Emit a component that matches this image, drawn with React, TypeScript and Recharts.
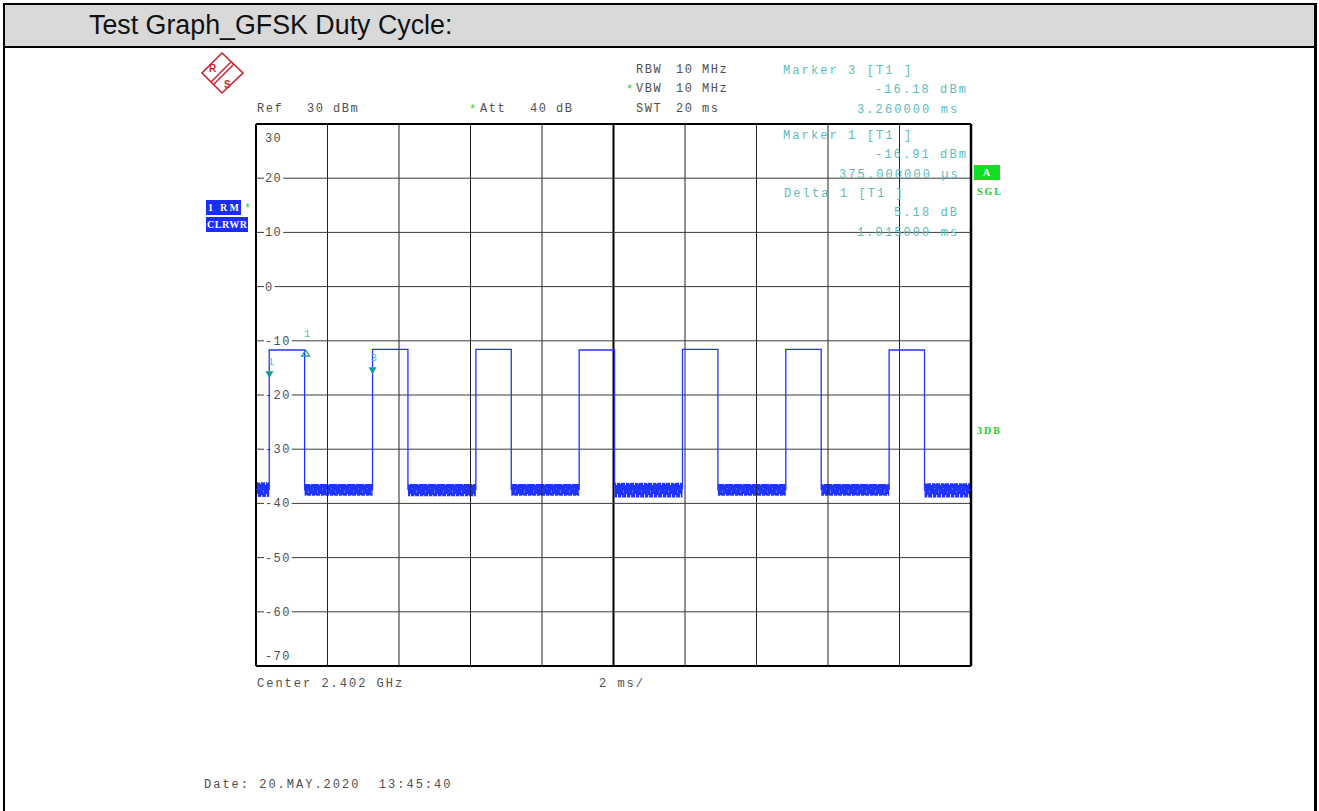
import {
  ComposedChart,
  Line,
  Area,
  XAxis,
  YAxis,
  ReferenceLine,
  ReferenceDot,
} from "recharts";

// sweep: 0..20 ms, level: -70..30 dBm
const sweepRange = [0, 20];
const levelRange = [-70, 30];
const timeGrid = [2, 4, 6, 8, 12, 14, 16, 18];
const levelGrid = [20, 10, 0, -10, -20, -30, -40, -50, -60];

// burst edges (ms) and levels (dBm)
const pulseRise = [0.37, 3.26, 6.15, 9.04, 11.93, 14.82, 17.71];
const pulseFall = [1.36, 4.25, 7.14, 10.03, 12.92, 15.81, 18.7];
const pulseTop = [-11.7, -11.6, -11.6, -11.7, -11.6, -11.6, -11.7];
// noise floor between bursts (8 gaps)
const floorLevel = [-37.4, -37.5, -37.4, -37.4, -37.3, -37.5, -37.4, -37.5];
const noiseLow = [-38.8, -38.6, -38.7, -38.6, -38.9, -38.6, -38.6, -38.9];
const noiseHigh = [-36.1, -36.4, -36.4, -36.4, -36.2, -36.4, -36.4, -36.3];

const markers = [
  { label: "1", t: 0.375, v: -16.91, kind: "down" },
  { label: "3", t: 3.26, v: -16.18, kind: "down" },
  { label: "1", t: 1.39, v: -11.73, kind: "delta" },
];

const trace: { t: number; v: number }[] = [{ t: sweepRange[0], v: floorLevel[0] }];
pulseRise.forEach((r, i) => {
  trace.push(
    { t: r, v: floorLevel[i] },
    { t: r, v: pulseTop[i] },
    { t: pulseFall[i], v: pulseTop[i] },
    { t: pulseFall[i], v: floorLevel[i + 1] }
  );
});
trace.push({ t: sweepRange[1], v: floorLevel[floorLevel.length - 1] });

const gapStart = [sweepRange[0], ...pulseFall];
const gapEnd = [...pulseRise, sweepRange[1]];
const noiseGaps = gapStart.map((s, i) => [
  { t: s, band: [noiseLow[i], noiseHigh[i]] },
  { t: gapEnd[i], band: [noiseLow[i], noiseHigh[i]] },
]);

const TRACE = "#1f35ff";
const GREY = "#505050";
const TEAL = "#5bbcbc";
const MARK = "#139c9c";

const mono = {
  fontFamily: "Liberation Mono, monospace",
  fontSize: 12,
  whiteSpace: "pre" as const,
};

const Txt = ({
  x,
  y,
  fill = GREY,
  ls = 1.5,
  children,
}: {
  x: number;
  y: number;
  fill?: string;
  ls?: number;
  children: any;
}) => (
  <text x={x} y={y + 4} fill={fill} letterSpacing={ls} style={mono}>
    {children}
  </text>
);

const tickLabel = (value: number) => (props: any) => {
  const vb = props.viewBox || {};
  const x = vb.x + 9;
  let cy = vb.y;
  if (value === levelRange[1]) cy = vb.y + 14;
  if (value === levelRange[0]) cy = vb.y - 10;
  const txt = String(value);
  const w = txt.length * 8.6 + 2;
  return (
    <g>
      <rect x={x - 1} y={cy - 6} width={w} height={12} fill="#fff" />
      <text x={x} y={cy + 4} fill={GREY} letterSpacing={1.4} style={mono}>
        {txt}
      </text>
    </g>
  );
};

const markerShape = (m: any) => (props: any) => {
  const { cx, cy } = props;
  if (m.kind === "delta") {
    return (
      <g>
        <polygon
          points={`${cx},${cy} ${cx - 4},${cy + 6} ${cx + 4},${cy + 6}`}
          fill="none"
          stroke={MARK}
          strokeWidth={1.2}
        />
        <text x={cx - 2} y={cy - 13} fill={TEAL} style={{ ...mono, fontSize: 11 }}>
          {m.label}
        </text>
      </g>
    );
  }
  return (
    <g>
      <polygon
        points={`${cx},${cy} ${cx - 4},${cy - 7} ${cx + 4},${cy - 7}`}
        fill={MARK}
      />
      <text x={cx - 2} y={cy - 13} fill={TEAL} style={{ ...mono, fontSize: 11 }}>
        {m.label}
      </text>
    </g>
  );
};

const Logo = () => (
  <g stroke="#cc1f2e" fill="none">
    <polygon points="222,53 243,73 222,93 202,73" strokeWidth={1.6} />
    <line x1={231} y1={62} x2={211} y2={82} strokeWidth={1.4} />
    <line x1={234} y1={64} x2={214} y2={84} strokeWidth={1.4} />
    <text
      x={209}
      y={72}
      fill="#cc1f2e"
      stroke="none"
      fontFamily="Liberation Sans"
      fontSize={10}
      fontWeight="bold"
    >
      R
    </text>
    <text
      x={224}
      y={88}
      fill="#cc1f2e"
      stroke="none"
      fontFamily="Liberation Sans"
      fontSize={10}
      fontWeight="bold"
    >
      S
    </text>
  </g>
);

const badge = {
  fontFamily: "Liberation Serif, serif",
  fontSize: 10,
  fontWeight: "bold" as const,
};

export default function App() {
  return (
    <div
      style={{
        position: "absolute",
        left: 0,
        top: 0,
        width: 1319,
        height: 811,
        background: "#fff",
        overflow: "hidden",
      }}
    >
      {/* table frame */}
      <div
        style={{
          position: "absolute",
          left: 3,
          top: 3,
          width: 1314,
          height: 820,
          boxSizing: "border-box",
          borderLeft: "2px solid #000",
          borderTop: "2px solid #000",
          borderRight: "3px solid #000",
        }}
      />
      <div
        style={{
          position: "absolute",
          left: 5,
          top: 5,
          width: 1309,
          height: 41,
          background: "#d9d9d9",
          borderBottom: "2px solid #000",
        }}
      />
      <div
        style={{
          position: "absolute",
          left: 89,
          top: 10,
          fontFamily: "Liberation Sans, Arial, sans-serif",
          fontSize: 26.8,
          lineHeight: "31px",
          color: "#111",
          whiteSpace: "nowrap",
        }}
      >
        Test Graph_GFSK Duty Cycle:
      </div>

      {/* texture for the noise floor band */}
      <svg width={0} height={0} style={{ position: "absolute" }}>
        <defs>
          <pattern
            id="noiseTex"
            patternUnits="userSpaceOnUse"
            x={0}
            y={367}
            width={9}
            height={18}
          >
            <rect x={0} y={0} width={9} height={18} fill={TRACE} />
            <rect x={1} y={0} width={1} height={4} fill="#fff" opacity={0.85} />
            <rect x={3} y={0} width={1.2} height={2} fill="#fff" opacity={0.7} />
            <rect x={5} y={0} width={1} height={3} fill="#fff" opacity={0.8} />
            <rect x={7.5} y={0} width={1} height={1.5} fill="#fff" opacity={0.6} />
            <rect x={2} y={13} width={1} height={5} fill="#fff" opacity={0.8} />
            <rect x={6} y={14} width={1.2} height={4} fill="#fff" opacity={0.7} />
            <rect x={4} y={7} width={0.8} height={2} fill="#9aa6ff" opacity={0.6} />
            <rect x={8} y={9} width={0.8} height={3} fill="#9aa6ff" opacity={0.6} />
          </pattern>
        </defs>
      </svg>

      <div style={{ position: "absolute", left: 246, top: 114 }}>
        <ComposedChart
          width={735}
          height={562}
          margin={{ top: 10, right: 10, bottom: 10, left: 10 }}
        >
          <XAxis
            type="number"
            dataKey="t"
            domain={sweepRange}
            allowDataOverflow
            hide
          />
          <YAxis type="number" domain={levelRange} allowDataOverflow hide />
          {timeGrid.map((t) => (
            <ReferenceLine key={`x${t}`} x={t} stroke="#222" strokeWidth={1} />
          ))}
          <ReferenceLine x={10} stroke="#000" strokeWidth={2} />
          {levelGrid.map((v) => (
            <ReferenceLine
              key={`y${v}`}
              y={v}
              stroke="#3c3c3c"
              strokeWidth={1}
              label={{ content: tickLabel(v) }}
            />
          ))}
          <ReferenceLine
            y={levelRange[1]}
            stroke="#000"
            strokeWidth={2}
            label={{ content: tickLabel(levelRange[1]) }}
          />
          <ReferenceLine
            y={levelRange[0]}
            stroke="#000"
            strokeWidth={2}
            label={{ content: tickLabel(levelRange[0]) }}
          />
          <ReferenceLine x={sweepRange[0]} stroke="#000" strokeWidth={2} />
          <ReferenceLine x={sweepRange[1]} stroke="#000" strokeWidth={2.5} />
          {noiseGaps.map((d, i) => (
            <Area
              key={`n${i}`}
              data={d}
              dataKey="band"
              type="linear"
              stroke="none"
              fill="url(#noiseTex)"
              fillOpacity={1}
              isAnimationActive={false}
            />
          ))}
          <Line
            data={trace}
            dataKey="v"
            type="linear"
            stroke={TRACE}
            strokeWidth={1.3}
            dot={false}
            isAnimationActive={false}
          />
          {markers.map((m, i) => (
            <ReferenceDot
              key={`m${i}`}
              x={m.t}
              y={m.v}
              r={4}
              shape={markerShape(m)}
            />
          ))}
        </ComposedChart>
      </div>

      <svg
        width={1319}
        height={811}
        style={{ position: "absolute", left: 0, top: 0, pointerEvents: "none" }}
      >
        <Logo />

        <Txt x={636} y={69}>RBW</Txt>
        <Txt x={676} y={69}>10 MHz</Txt>
        <Txt x={626} y={89} fill="#2bd12b">*</Txt>
        <Txt x={636} y={88}>VBW</Txt>
        <Txt x={676} y={88}>10 MHz</Txt>
        <Txt x={636} y={108}>SWT</Txt>
        <Txt x={676} y={108}>20 ms</Txt>
        <Txt x={257} y={108}>Ref</Txt>
        <Txt x={307} y={108}>30 dBm</Txt>
        <Txt x={469} y={109} fill="#2bd12b">*</Txt>
        <Txt x={480} y={108}>Att</Txt>
        <Txt x={530} y={108}>40 dB</Txt>

        <Txt x={783} y={70} fill={TEAL} ls={2.1}>Marker 3 [T1 ]</Txt>
        <Txt x={875} y={89} fill={TEAL} ls={2.1}>-16.18 dBm</Txt>
        <Txt x={857} y={108.5} fill={TEAL} ls={2.1}>3.260000 ms</Txt>
        <Txt x={783} y={134.5} fill={TEAL} ls={2.1}>Marker 1 [T1 ]</Txt>
        <Txt x={875} y={154} fill={TEAL} ls={2.1}>-16.91 dBm</Txt>
        <Txt x={839} y={174} fill={TEAL} ls={2.1}>375.000000 µs</Txt>
        <Txt x={784} y={192.5} fill={TEAL} ls={2.1}>Delta 1 [T1 ]</Txt>
        <Txt x={894} y={211.5} fill={TEAL} ls={2.1}>5.18 dB</Txt>
        <Txt x={857} y={231.5} fill={TEAL} ls={2.1}>1.015000 ms</Txt>

        <Txt x={257} y={683} ls={2}>Center 2.402 GHz</Txt>
        <Txt x={599} y={683} ls={2}>2 ms/</Txt>
        <Txt x={204} y={784} ls={2}>Date: 20.MAY.2020  13:45:40</Txt>

        <rect x={206} y={200} width={35} height={15} fill="#1a2cff" />
        <text x={208} y={211} fill="#fff" style={badge} textLength={31}>
          1 RM
        </text>
        <Txt x={244} y={208} fill="#2bd12b">*</Txt>
        <rect x={206} y={217} width={42} height={15} fill="#1a2cff" />
        <text x={207} y={228} fill="#fff" style={badge} textLength={40}>
          CLRWR
        </text>

        <rect x={974} y={165} width={26} height={15} fill="#11dd22" />
        <text x={983} y={176} fill="#fff" style={badge}>
          A
        </text>
        <text x={977} y={195} fill="#22cc22" style={badge} textLength={24}>
          SGL
        </text>
        <text x={977} y={434} fill="#22cc22" style={badge} textLength={23}>
          3DB
        </text>
      </svg>
    </div>
  );
}
